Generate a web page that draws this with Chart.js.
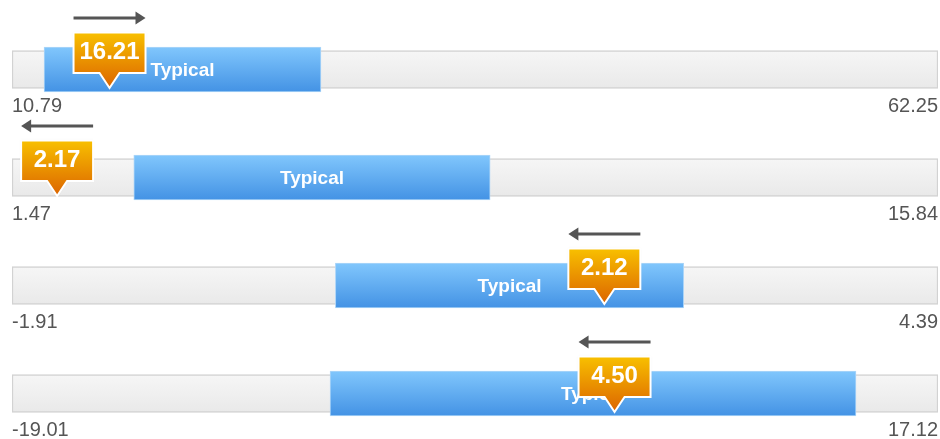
<!DOCTYPE html>
<html>
<head>
<meta charset="utf-8">
<script src="https://cdn.jsdelivr.net/npm/chart.js@4.4.1/dist/chart.umd.min.js"></script>
<style>
  html, body { margin: 0; padding: 0; background: #ffffff; }
  body { width: 940px; height: 439px; overflow: hidden; position: relative; }
  .row { position: absolute; left: 0; width: 940px; height: 118px; }
</style>
</head>
<body>
<div class="row" style="top:0px"><canvas id="c0"></canvas></div>
<div class="row" style="top:108px"><canvas id="c1"></canvas></div>
<div class="row" style="top:216px"><canvas id="c2"></canvas></div>
<div class="row" style="top:324px"><canvas id="c3"></canvas></div>
<script>
// ---- Data ----
const rowNames      = ['Row 1', 'Row 2', 'Row 3', 'Row 4'];
const scaleMin      = [10.79, 1.47, -1.91, -19.01];
const scaleMax      = [62.25, 15.84, 4.39, 17.12];
const typicalLow    = [12.57, 3.36, 0.29, -6.60];
const typicalHigh   = [27.96, 8.89, 2.66, 13.92];
const currentValue  = [16.21, 2.17, 2.12, 4.50];
const trendDir      = ['up', 'down', 'down', 'down'];
const typicalText   = 'Typical';

const FONT = '"Liberation Sans", Arial, Helvetica, sans-serif';

function centerY(chart) {
  return chart.scales.y.getPixelForValue(0);
}

function trackFill(ctx) {
  const chart = ctx.chart;
  if (!chart.chartArea) return '#eeeeee';
  const cy = centerY(chart);
  const g = chart.ctx.createLinearGradient(0, cy - 19, 0, cy + 19);
  g.addColorStop(0, '#f6f6f6');
  g.addColorStop(1, '#e9e9e9');
  return g;
}
function typicalFill(ctx) {
  const chart = ctx.chart;
  if (!chart.chartArea) return '#5aaaf0';
  const cy = centerY(chart);
  const g = chart.ctx.createLinearGradient(0, cy - 22, 0, cy + 22);
  g.addColorStop(0, '#80c6fc');
  g.addColorStop(1, '#4493e5');
  return g;
}

const overlayPlugin = {
  id: 'overlay',
  afterDatasetsDraw(chart, args, opts) {
    const i = opts.row;
    const ctx = chart.ctx;
    const xs = chart.scales.x;
    const cy = centerY(chart);

    // "Typical" label centred in the typical bar
    const tl = xs.getPixelForValue(typicalLow[i]);
    const th = xs.getPixelForValue(typicalHigh[i]);
    ctx.save();
    ctx.font = 'bold 19px ' + FONT;
    ctx.fillStyle = '#ffffff';
    ctx.textAlign = 'center';
    ctx.textBaseline = 'middle';
    ctx.fillText(typicalText, (tl + th) / 2, cy + 1);
    ctx.restore();

    // Current value marker
    const mx = xs.getPixelForValue(currentValue[i]);
    const halfW = 36;
    const top = cy - 37;
    const bottom = cy + 3.5;
    const tip = cy + 18.5;
    ctx.save();
    ctx.beginPath();
    ctx.moveTo(mx - halfW, top);
    ctx.lineTo(mx + halfW, top);
    ctx.lineTo(mx + halfW, bottom);
    ctx.lineTo(mx + 10, bottom);
    ctx.lineTo(mx, tip);
    ctx.lineTo(mx - 10, bottom);
    ctx.lineTo(mx - halfW, bottom);
    ctx.closePath();
    const g = ctx.createLinearGradient(0, top, 0, tip);
    g.addColorStop(0, '#f8c000');
    g.addColorStop(1, '#dc6400');
    ctx.fillStyle = g;
    ctx.shadowColor = 'rgba(0,0,0,0.12)';
    ctx.shadowBlur = 2;
    ctx.fill();
    ctx.shadowColor = 'transparent';
    ctx.lineWidth = 2;
    ctx.strokeStyle = '#ffffff';
    ctx.lineJoin = 'miter';
    ctx.stroke();
    ctx.font = 'bold 24px ' + FONT;
    ctx.fillStyle = '#ffffff';
    ctx.textAlign = 'center';
    ctx.textBaseline = 'middle';
    ctx.fillText(currentValue[i].toFixed(2), mx, top + 20);
    ctx.restore();

    // Trend arrow above the marker
    const ay = cy - 51.5;
    const x0 = mx - halfW, x1 = mx + halfW;
    ctx.save();
    ctx.strokeStyle = '#555555';
    ctx.fillStyle = '#555555';
    ctx.lineWidth = 3;
    ctx.beginPath();
    if (trendDir[i] === 'up') {
      ctx.moveTo(x0, ay); ctx.lineTo(x1 - 6, ay);
      ctx.stroke();
      ctx.beginPath();
      ctx.moveTo(x1, ay); ctx.lineTo(x1 - 10, ay - 6.5); ctx.lineTo(x1 - 10, ay + 6.5);
      ctx.closePath(); ctx.fill();
    } else {
      ctx.moveTo(x1, ay); ctx.lineTo(x0 + 6, ay);
      ctx.stroke();
      ctx.beginPath();
      ctx.moveTo(x0, ay); ctx.lineTo(x0 + 10, ay - 6.5); ctx.lineTo(x0 + 10, ay + 6.5);
      ctx.closePath(); ctx.fill();
    }
    ctx.restore();
  }
};

function makeChart(i) {
  const el = document.getElementById('c' + i);
  return new Chart(el, {
    type: 'bar',
    data: {
      labels: [rowNames[i]],
      datasets: [
        {
          label: 'Range',
          data: [[scaleMin[i], scaleMax[i]]],
          backgroundColor: trackFill,
          borderColor: '#d2d2d2',
          borderWidth: 1.5,
          borderSkipped: false,
          barThickness: 38,
          grouped: false,
          order: 2
        },
        {
          label: typicalText,
          data: [[typicalLow[i], typicalHigh[i]]],
          backgroundColor: typicalFill,
          borderColor: '#aed6f8',
          borderWidth: 1,
          borderSkipped: false,
          barThickness: 45,
          grouped: false,
          order: 1
        }
      ]
    },
    options: {
      indexAxis: 'y',
      responsive: true,
      maintainAspectRatio: false,
      animation: false,
      events: [],
      layout: { padding: { left: 12, right: 2, top: 45, bottom: 0 } },
      plugins: {
        legend: { display: false },
        tooltip: { enabled: false },
        overlay: { row: i }
      },
      scales: {
        y: { display: false },
        x: {
          type: 'linear',
          min: scaleMin[i],
          max: scaleMax[i],
          afterBuildTicks: (s) => { s.ticks = [{ value: scaleMin[i] }, { value: scaleMax[i] }]; },
          grid: { display: false, drawTicks: false },
          border: { display: false },
          ticks: {
            align: 'inner',
            padding: 0,
            maxRotation: 0,
            autoSkip: false,
            color: '#555555',
            font: { size: 20, family: FONT },
            callback: (v) => Number(v).toFixed(2)
          }
        }
      }
    },
    plugins: [overlayPlugin]
  });
}

for (let i = 0; i < 4; i++) makeChart(i);
</script>
</body>
</html>
